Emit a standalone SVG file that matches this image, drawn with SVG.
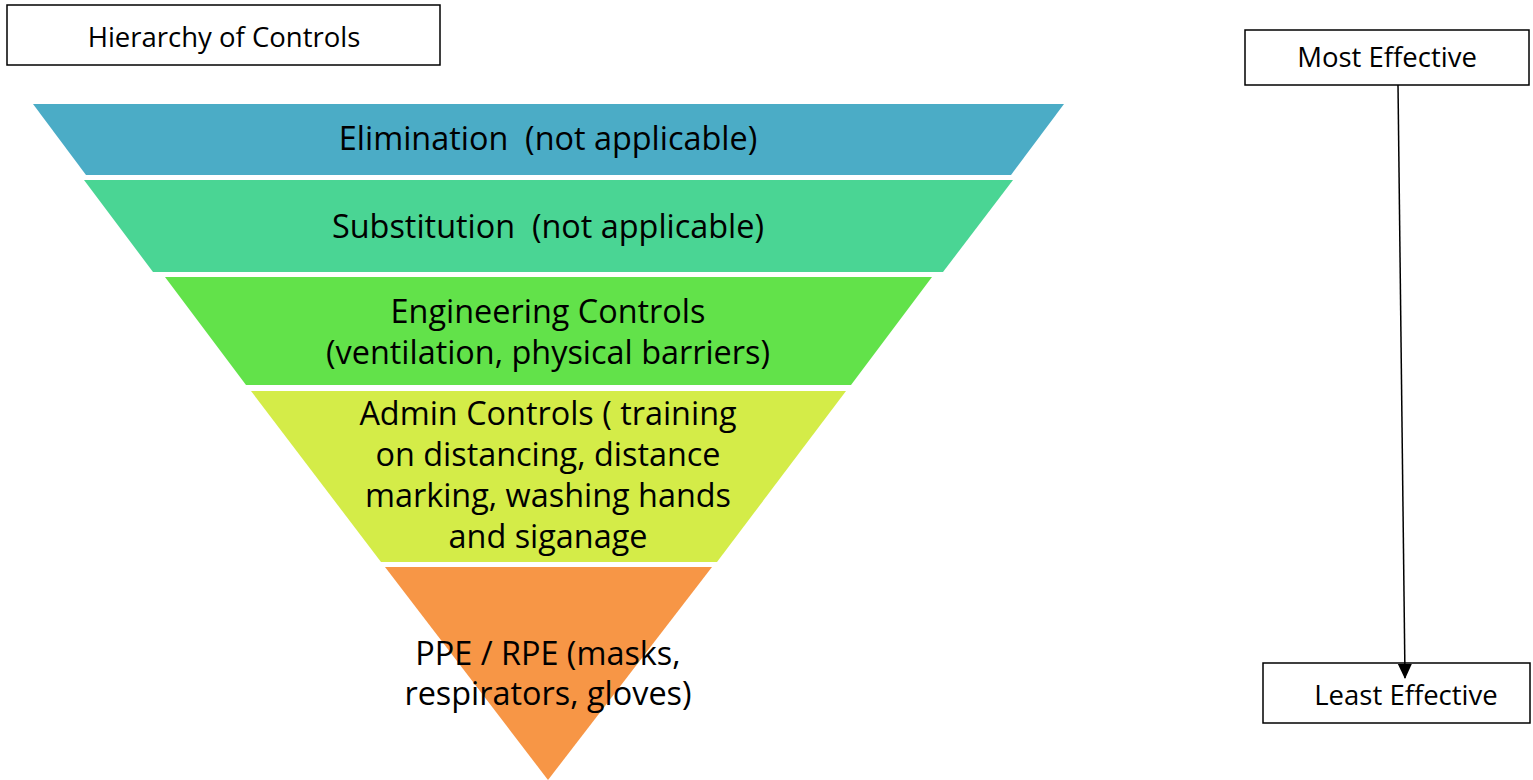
<svg xmlns="http://www.w3.org/2000/svg" width="1533" height="780" viewBox="0 0 1533 780">
<style>
.box{fill:#fff;stroke:#000;stroke-width:1.5}
.lbl{font-family:"Open Sans","Noto Sans",sans-serif;font-size:27.5px;fill:#000;text-anchor:middle}
.pt{font-family:"Open Sans","Noto Sans",sans-serif;font-size:32.4px;fill:#000;text-anchor:middle;white-space:pre}
.conn{stroke:#000;stroke-width:1.5;fill:none}
</style>
<defs>
<marker id="arr" markerUnits="userSpaceOnUse" markerWidth="15" markerHeight="15" refX="14" refY="7.5" orient="auto">
<path d="M0,0.5 L15,7.5 L0,14.5 z" fill="#000"/>
</marker>
</defs>
<rect width="1533" height="780" fill="#fff"/>
<g id="title">
<rect class="box" x="7" y="5" width="433" height="60"/>
<text class="lbl" x="224" y="47">Hierarchy of Controls</text>
</g>
<g id="elimination">
<polygon points="33,104 1064,104 1011,175 86,175" fill="#4BACC6"/>
<text class="pt" x="548" y="150" xml:space="preserve">Elimination  (not applicable)</text>
</g>
<g id="substitution">
<polygon points="84,180 1013,180 943,272 153,272" fill="#4AD594"/>
<text class="pt" x="548" y="238" xml:space="preserve">Substitution  (not applicable)</text>
</g>
<g id="engineering">
<polygon points="165,277 932,277 851,385 246,385" fill="#62E24A"/>
<text class="pt" x="548" y="323">Engineering Controls</text>
<text class="pt" x="548" y="364">(ventilation, physical barriers)</text>
</g>
<g id="admin">
<polygon points="251,391 846,391 717,562 381,562" fill="#D4EC48"/>
<text class="pt" x="548" y="425">Admin Controls ( training</text>
<text class="pt" x="548" y="466">on distancing, distance</text>
<text class="pt" x="548" y="507">marking, washing hands</text>
<text class="pt" x="548" y="548">and siganage</text>
</g>
<g id="ppe">
<polygon points="385,567 712,567 548,780" fill="#F79646"/>
<text class="pt" x="548" y="665">PPE / RPE (masks,</text>
<text class="pt" x="548" y="705">respirators, gloves)</text>
</g>
<g id="most">
<rect class="box" x="1245" y="30" width="284" height="55"/>
<text class="lbl" x="1387" y="67">Most Effective</text>
</g>
<g id="least">
<rect class="box" x="1263" y="663" width="267" height="60"/>
<text class="lbl" x="1406" y="705">Least Effective</text>
</g>
<g id="connectors">
<line class="conn" x1="1398" y1="85" x2="1405" y2="678" marker-end="url(#arr)"/>
</g>
</svg>
